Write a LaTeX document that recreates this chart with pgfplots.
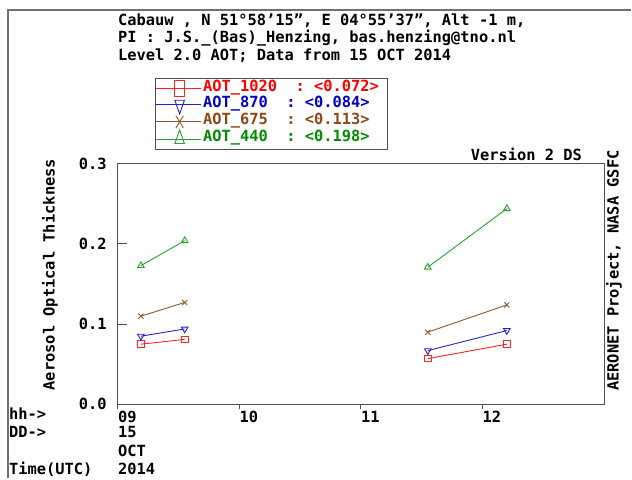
\documentclass[border=0pt]{standalone}
\usepackage{pgfplots}
\pgfplotsset{compat=1.18}
\usepackage{fontspec}
\setmainfont{DejaVu Sans Mono}
\newcommand\tf{\fontsize{15.4pt}{18pt}\selectfont\bfseries}
% one character cell of the monospaced font
\newcommand\cell{\hspace*{0.602em}}
\definecolor{aotred}{HTML}{FF2222}
\definecolor{aotblue}{HTML}{2222D8}
\definecolor{aotbrown}{HTML}{8C5A2D}
\definecolor{aotgreen}{HTML}{2CA02C}
\definecolor{txtred}{HTML}{FF0000}
\definecolor{txtblue}{HTML}{0000C8}
\definecolor{txtbrown}{HTML}{8B4A14}
\definecolor{txtgreen}{HTML}{008C00}
\definecolor{framegray}{HTML}{707070}
\definecolor{axgray}{HTML}{505050}

\begin{document}
\begin{tikzpicture}[x=1pt,y=1pt]
\path (0,0) rectangle (632,479);
% page frame
\draw[framegray, line width=2pt] (8,0) -- (8,469) -- (632,469);

% header
\node[anchor=base west, inner sep=0pt, font=\tf] at (118,453.5) {Cabauw , N 51°58’15", E 04°55’37", Alt -1 m,};
\node[anchor=base west, inner sep=0pt, font=\tf] at (118,436) {PI : J.S.\_(Bas)\_Henzing, bas.henzing@tno.nl};
\node[anchor=base west, inner sep=0pt, font=\tf] at (118,418.5) {Level 2.0 AOT; Data from 15 OCT 2014};

\node[anchor=base east, inner sep=0pt, font=\tf] at (583,318.5) {Version 2 DS};
\node[rotate=90, inner sep=0pt, font=\tf] at (615,208) {AERONET Project, NASA GSFC};

% time axis annotation
\node[anchor=base west, inner sep=0pt, font=\tf] at (9,59) {hh->};
\node[anchor=base west, inner sep=0pt, font=\tf] at (9,40.5) {DD->};
\node[anchor=base west, inner sep=0pt, font=\tf] at (9,4) {Time(UTC)};
\node[anchor=base west, inner sep=0pt, font=\tf] at (118,40.5) {15};
\node[anchor=base west, inner sep=0pt, font=\tf] at (118,22) {OCT};
\node[anchor=base west, inner sep=0pt, font=\tf] at (118,4) {2014};

\begin{axis}[
  at={(118pt,74pt)}, anchor=south west,
  scale only axis, width=487pt, height=241pt,
  xmin=9, xmax=13, ymin=0, ymax=0.3,
  axis line style={draw=axgray, line width=0.9pt},
  tick style={axgray, line width=0.9pt},
  xtick={9,10,11,12}, xticklabels={09,10,11,12},
  ytick={0,0.1,0.2,0.3},
  xtick pos=bottom, ytick pos=left,
  tick align=inside, major tick length=9pt,
  minor xtick={9,10,11,12}, minor tick length=5pt, xtick align=outside,
  major x tick style={draw=none},
  xticklabel style={font=\tf, anchor=north west, inner sep=0pt, yshift=2.5pt},
  yticklabel style={font=\tf, anchor=east, inner sep=0pt, xshift=-11pt,
    /pgf/number format/.cd, fixed, fixed zerofill, precision=1, assume math mode=true},
  ylabel={Aerosol Optical Thickness},
  ylabel style={font=\tf, at={(axis description cs:-0.1396,0.539)}, anchor=center},
  unbounded coords=jump,
  every axis plot/.append style={line width=0.9pt},
  legend cell align=left,
  legend image code/.code={
    \draw[mark repeat=2, mark phase=2, #1,
      every mark/.append style={xscale=1.45, yscale=2.4}]
      plot coordinates {(0pt,0pt) (24pt,0pt) (45pt,0pt)};
  },
  legend style={at={(axis description cs:0.076,1.3568)}, anchor=north west,
    draw=axgray, line width=0.9pt, inner xsep=0pt, inner ysep=2.5pt, row sep=0pt,
    font=\tf,
    nodes={inner xsep=0pt, inner ysep=0pt, text height=11pt, text depth=5pt}},
]
\addplot[color=aotred, mark=square, mark size=3.3pt, mark options={solid}]
  coordinates {(9.19,0.075) (9.55,0.081) (10.5,nan) (11.55,0.057) (12.20,0.075)};
\addlegendentry{\hspace*{2pt}\textcolor{txtred}{AOT\_1020\cell\cell:\cell<0.072>}\hspace*{9pt}}
\addplot[color=aotblue, mark=triangle, mark size=3.8pt, mark options={solid, rotate=180}]
  coordinates {(9.19,0.085) (9.55,0.094) (10.5,nan) (11.55,0.067) (12.20,0.092)};
\addlegendentry{\hspace*{2pt}\textcolor{txtblue}{AOT\_870\cell\cell:\cell<0.084>}}
\addplot[color=aotbrown, mark=x, mark size=3.6pt, mark options={solid}]
  coordinates {(9.19,0.110) (9.55,0.127) (10.5,nan) (11.55,0.090) (12.20,0.124)};
\addlegendentry{\hspace*{2pt}\textcolor{txtbrown}{AOT\_675\cell\cell:\cell<0.113>}}
\addplot[color=aotgreen, mark=triangle, mark size=3.8pt, mark options={solid}]
  coordinates {(9.19,0.173) (9.55,0.204) (10.5,nan) (11.55,0.171) (12.20,0.244)};
\addlegendentry{\hspace*{2pt}\textcolor{txtgreen}{AOT\_440\cell\cell:\cell<0.198>}}
\end{axis}
\end{tikzpicture}
\end{document}
